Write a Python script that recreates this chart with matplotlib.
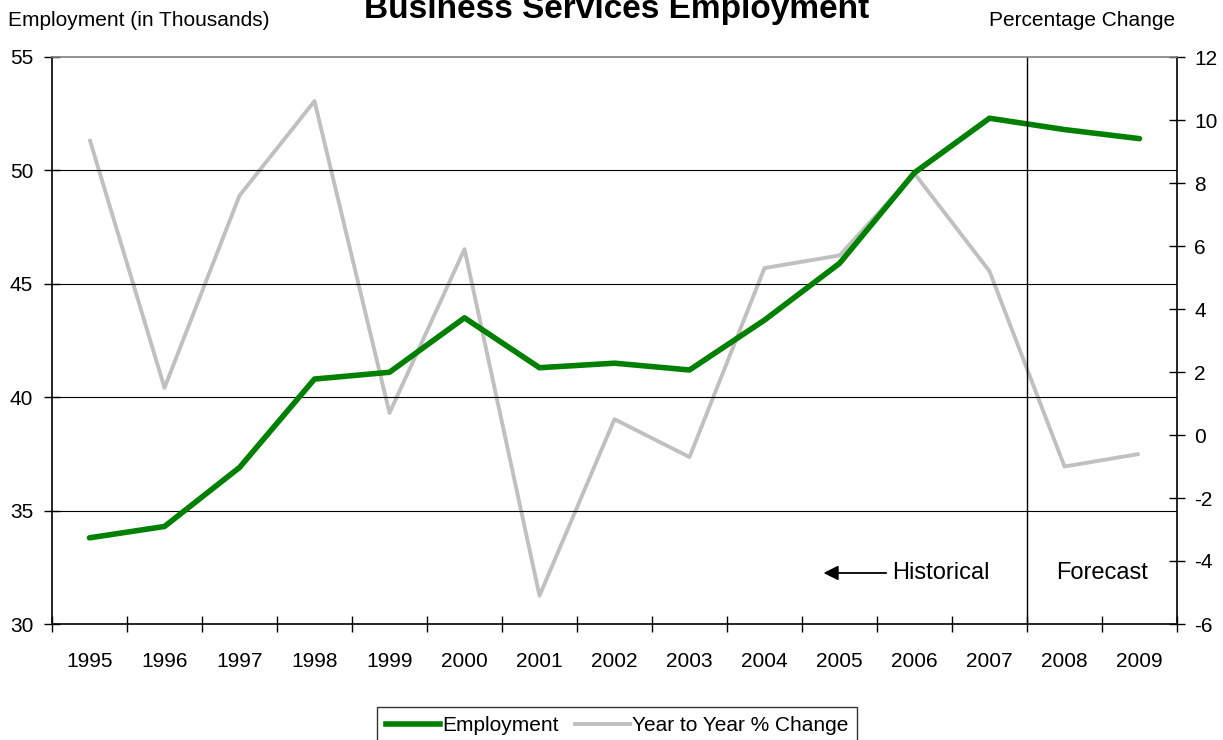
import matplotlib.pyplot as plt
from matplotlib import font_manager
from matplotlib.lines import Line2D

# データ
years = ["1995", "1996", "1997", "1998", "1999", "2000", "2001", "2002",
         "2003", "2004", "2005", "2006", "2007", "2008", "2009"]
employment = [33.8, 34.3, 36.9, 40.8, 41.1, 43.5, 41.3, 41.5,
              41.2, 43.4, 45.9, 49.9, 52.3, 51.8, 51.4]
pct_change = [9.4, 1.5, 7.6, 10.6, 0.7, 5.9, -5.1, 0.5,
              -0.7, 5.3, 5.7, 8.3, 5.2, -1.0, -0.6]
left_ticks = [30, 35, 40, 45, 50, 55]
right_ticks = [-6, -4, -2, 0, 2, 4, 6, 8, 10, 12]

# フォント（Narrow が無ければ通常幅を少し小さく）
names = {f.name for f in font_manager.fontManager.ttflist}
if "Liberation Sans Narrow" in names:
    narrow, nsize = "Liberation Sans Narrow", 16
else:
    narrow, nsize = "Liberation Sans", 15
plt.rcParams['font.family'] = ['Liberation Sans', 'DejaVu Sans']

fig = plt.figure(figsize=(12.23, 7.40), dpi=100)
ax = fig.add_axes([52 / 1223, 1 - 624 / 740, (1177 - 52) / 1223, (624 - 57) / 740])
ax2 = ax.twinx()

x = list(range(len(years)))
ax.set_zorder(ax2.get_zorder() + 1)
ax.patch.set_visible(False)

ax2.plot(x, pct_change, color="#c0c0c0", lw=2.8, solid_capstyle="butt")
ax.plot(x, employment, color="#008000", lw=4, solid_capstyle="round")

ax.set_xlim(-0.5, len(years) - 0.5)
ax.set_ylim(30, 55)
ax2.set_ylim(-6, 12)

# グリッド
for v in left_ticks[1:-1]:
    ax.axhline(v, color="black", lw=0.8, zorder=0)

# 軸
for a in (ax, ax2):
    for s in ("top", "bottom", "left", "right"):
        a.spines[s].set_visible(False)
ax.spines["left"].set_visible(True)
ax.spines["bottom"].set_visible(True)
ax2.spines["right"].set_visible(True)
ax.spines["top"].set_visible(True)
ax.spines["top"].set_color("#808080")
ax.spines["top"].set_linewidth(1.2)
for s in ("left", "bottom"):
    ax.spines[s].set_linewidth(1.2)
ax2.spines["right"].set_linewidth(1.2)

ax.set_xticks([i - 0.5 for i in range(len(years) + 1)])
ax.set_xticklabels([])
ax.set_xticks(x, minor=True)
ax.set_xticklabels(years, minor=True, family=[narrow], fontsize=nsize)
ax.tick_params(axis="x", which="major", direction="inout", length=12, width=1)
ax.tick_params(axis="x", which="minor", length=0, pad=20)

ax.set_yticks(left_ticks)
ax.set_yticklabels([str(v) for v in left_ticks], family=[narrow], fontsize=nsize)
ax.tick_params(axis="y", direction="inout", length=11, width=1, pad=8)
ax2.set_yticks(right_ticks)
ax2.set_yticklabels([str(v) for v in right_ticks], family=[narrow], fontsize=nsize)
ax2.tick_params(axis="y", direction="inout", length=11, width=1, pad=7)

# 予測の区切り
ax.axvline(12.5, color="black", lw=1)
ax.annotate("", xy=(9.75, 32.25), xytext=(10.66, 32.25),
            arrowprops=dict(arrowstyle="-|>", color="black", lw=1.3,
                            mutation_scale=22))
ax.text(10.7, 32.25, "Historical", fontsize=17, va="center", ha="left")
ax.text(13.5, 32.25, "Forecast", fontsize=17, va="center", ha="center")

# テキスト
fig.text(617 / 1223, 1 - 18 / 740, "Business Services Employment",
         fontsize=24, fontweight="bold", ha="center", va="baseline")
fig.text(8 / 1223, 1 - 21 / 740, "Employment (in Thousands)",
         family=[narrow], fontsize=nsize, ha="left", va="center")
fig.text(1175 / 1223, 1 - 21 / 740, "Percentage Change",
         family=[narrow], fontsize=nsize, ha="right", va="center")

handles = [Line2D([], [], color="#008000", lw=4),
           Line2D([], [], color="#c0c0c0", lw=2.8)]
leg = fig.legend(handles, ["Employment", "Year to Year % Change"],
                 loc="upper center", bbox_to_anchor=(617 / 1223, 1 - 707 / 740),
                 ncol=2, frameon=True, fancybox=False, edgecolor="black",
                 prop={"family": narrow, "size": nsize}, handlelength=2.6,
                 handletextpad=0.1, columnspacing=0.8, borderpad=0.45,
                 borderaxespad=0)
leg.get_frame().set_linewidth(1)

plt.savefig("out.png", dpi=100)
